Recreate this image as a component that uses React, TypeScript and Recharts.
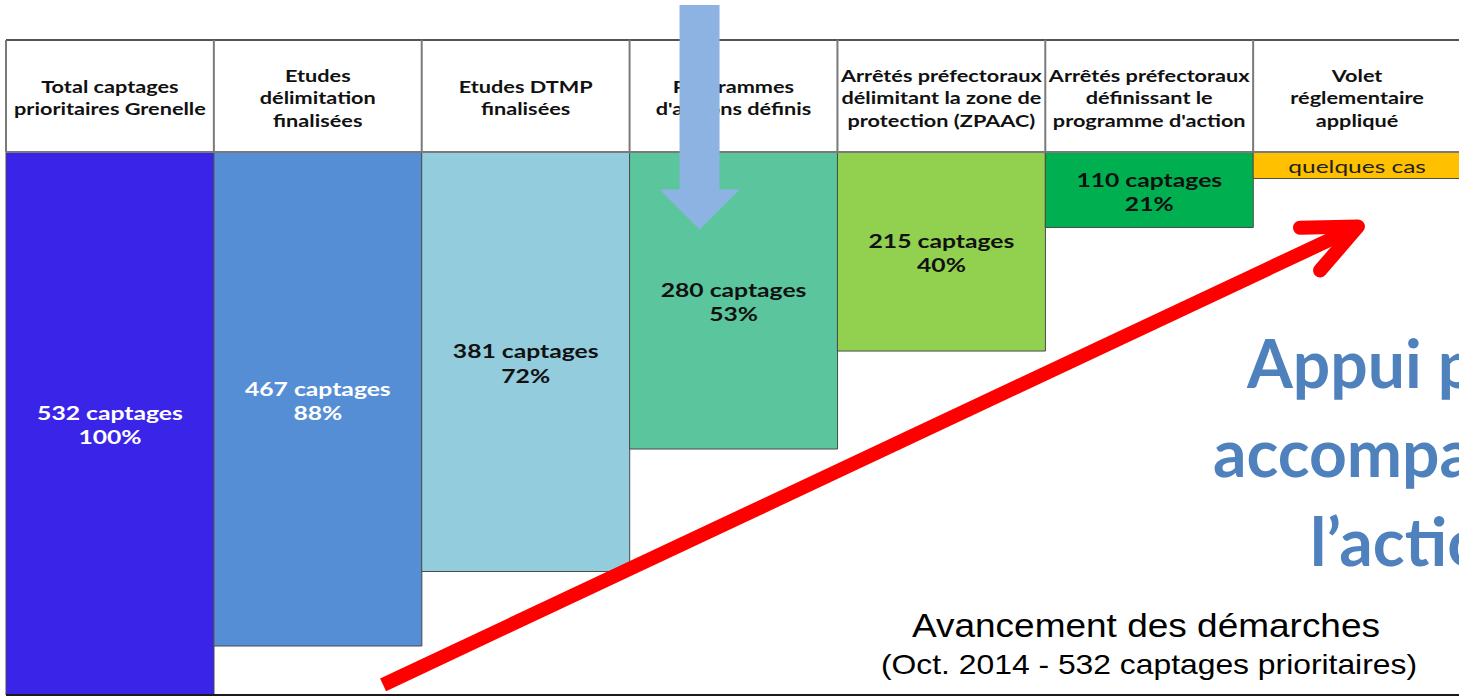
import { ComposedChart, Bar, Cell, XAxis, YAxis, ReferenceLine, LabelList } from "recharts";

// Étapes de la démarche (en-têtes de colonnes)
const etapes = [
  "Total captages\nprioritaires Grenelle",
  "Etudes\ndélimitation\nfinalisées",
  "Etudes DTMP\nfinalisées",
  "Programmes\nd'actions définis",
  "Arrêtés préfectoraux\ndélimitant la zone de\nprotection (ZPAAC)",
  "Arrêtés préfectoraux\ndéfinissant le\nprogramme d'action",
  "Volet\nréglementaire\nappliqué",
];
const captages = [532, 467, 381, 280, 215, 110, null];
const pourcentages = [100, 88, 72, 53, 40, 21, null];
// longueur des barres telle que dessinée sur la diapo (en captages)
const longueurLue = [532, 484, 411, 291, 195, 74, 26];
const mentionSansChiffre = "quelques cas";

const couleurs = ["#3A24E8", "#558ED5", "#93CDDD", "#5BC69D", "#92D050", "#00B050", "#FFC000"];
const couleursTexte = ["#FFFFFF", "#FFFFFF", "#111111", "#111111", "#111111", "#111111", "#222222"];

const data = etapes.map((etape, i) => ({
  etape,
  longueur: longueurLue[i],
}));

const LARGEUR = 1470;
const HAUTEUR = 698;
const MARGE = { top: 40, right: 9, bottom: 3, left: 6 };
const HAUT_ENTETE = 112;
const largeurTrace = LARGEUR - MARGE.left - MARGE.right;
const hauteurTrace = HAUTEUR - MARGE.top - MARGE.bottom - HAUT_ENTETE;
const bande = largeurTrace / etapes.length;
const maxCaptages = 532;

// annotations (axe caché 0..6 sur toute la largeur / captages)
const flecheBleue = [{ x: 2.86, y: -144 }, { x: 2.86, y: 76 }];
const flecheRouge = [{ x: 1.555, y: 522 }, { x: 5.575, y: 73 }];

// même correspondance que l'axe caché "n" et l'axe Y inversé
const versX = (v: number) => MARGE.left + (v / 6) * largeurTrace;
const versY = (v: number) => MARGE.top + HAUT_ENTETE + (v / maxCaptages) * hauteurTrace;

const police = "Lato, 'Open Sans', sans-serif";

function EnteteColonne({ x, payload }: any) {
  const lignes = String(payload.value).split("\n");
  const cy = MARGE.top + HAUT_ENTETE / 2 + 1;
  const pas = 22.5;
  const y0 = cy - ((lignes.length - 1) * pas) / 2;
  const g = x - bande / 2;
  return (
    <g>
      <line x1={g} x2={g + bande} y1={MARGE.top} y2={MARGE.top} stroke="#1a1a1a" strokeWidth={1.5} />
      <line x1={g} x2={g} y1={MARGE.top} y2={MARGE.top + HAUT_ENTETE} stroke="#7a7a7a" strokeWidth={2} />
      <text
        transform={`translate(${x},0) scale(1.24,1)`}
        textAnchor="middle"
        dominantBaseline="central"
        fontFamily={police}
        fontWeight={700}
        fontSize={17.5}
        fill="#111"
      >
        {lignes.map((l, k) => (
          <tspan key={k} x={0} y={y0 + k * pas}>
            {l}
          </tspan>
        ))}
      </text>
    </g>
  );
}

function EtiquetteBarre(props: any) {
  const { x, y, width, height, index } = props;
  const cx = x + width / 2;
  const cy = y + height / 2;
  const c = captages[index];
  if (c == null) {
    return (
      <text
        transform={`translate(${cx},0) scale(1.36,1)`}
        x={0}
        y={cy + 1}
        textAnchor="middle"
        dominantBaseline="central"
        fontFamily={police}
        fontSize={18}
        fill={couleursTexte[index]}
      >
        {mentionSansChiffre}
      </text>
    );
  }
  return (
    <text
      transform={`translate(${cx},0) scale(1.3,1)`}
      textAnchor="middle"
      dominantBaseline="central"
      fontFamily={police}
      fontWeight={700}
      fontSize={19}
      fill={couleursTexte[index]}
    >
      <tspan x={0} y={cy - 11}>{c} captages</tspan>
      <tspan x={0} y={cy + 13}>{pourcentages[index]}%</tspan>
    </text>
  );
}

function FlecheBleue() {
  const x1 = versX(flecheBleue[0].x);
  const y1 = versY(flecheBleue[0].y);
  const y2 = versY(flecheBleue[1].y);
  const pts = [
    [x1 - 20, y1],
    [x1 + 20, y1],
    [x1 + 20, y2 - 40],
    [x1 + 40, y2 - 40],
    [x1, y2],
    [x1 - 40, y2 - 40],
    [x1 - 20, y2 - 40],
  ]
    .map((q) => q.join(","))
    .join(" ");
  return <polygon points={pts} fill="#8DB3E2" />;
}

function FlecheRouge(p: any) {
  const { x1, y1, x2, y2 } = p;
  const dos = Math.atan2(y1 - y2, x1 - x2);
  const L = 58;
  const ouv = 0.42;
  const a = [x2 + L * Math.cos(dos + ouv), y2 + L * Math.sin(dos + ouv)];
  const b = [x2 + L * Math.cos(dos - ouv), y2 + L * Math.sin(dos - ouv)];
  return (
    <g stroke="#FF0000" strokeWidth={14} fill="none">
      <line x1={x1} y1={y1} x2={x2} y2={y2} />
      <polyline points={`${a[0]},${a[1]} ${x2},${y2} ${b[0]},${b[1]}`} strokeLinecap="round" strokeLinejoin="round" />
    </g>
  );
}

export default function App() {
  return (
    <div style={{ position: "absolute", left: 0, top: 0, width: 1459, height: 698, overflow: "hidden", background: "#fff" }}>
      <ComposedChart width={LARGEUR} height={HAUTEUR} data={data} margin={MARGE} barCategoryGap={0} barGap={0}>
        <XAxis
          dataKey="etape"
          orientation="top"
          height={HAUT_ENTETE}
          interval={0}
          tickLine={false}
          axisLine={{ stroke: "#7a7a7a", strokeWidth: 2 }}
          tick={<EnteteColonne />}
        />
        <XAxis xAxisId="n" type="number" domain={[0, 6]} allowDataOverflow hide />
        <YAxis type="number" domain={[0, maxCaptages]} reversed allowDataOverflow hide />
        <Bar dataKey="longueur" stroke="#4a4a4a" strokeWidth={1} isAnimationActive={false}>
          {data.map((d, i) => (
            <Cell key={d.etape} fill={couleurs[i]} />
          ))}
          <LabelList dataKey="longueur" content={<EtiquetteBarre />} />
        </Bar>
        <ReferenceLine y={maxCaptages} stroke="#1a1a1a" strokeWidth={2} ifOverflow="visible" />
        <ReferenceLine xAxisId="n" segment={flecheRouge} ifOverflow="visible" shape={<FlecheRouge />} />
      </ComposedChart>
      <svg width={1459} height={698} style={{ position: "absolute", left: 0, top: 0, pointerEvents: "none" }}>
        <FlecheBleue />
        <g fontFamily={police} fontWeight={700} fontSize={66} fill="#4F81BD">
          <text x={1247} y={388}>Appui pour</text>
          <text x={1213} y={477}>accompagner</text>
          <text x={1310} y={566}>l’action</text>
        </g>
        <g fontFamily="'Liberation Sans', Arial, sans-serif" fill="#000">
          <text x={912} y={637} fontSize={33} textLength={468} lengthAdjust="spacingAndGlyphs">
            Avancement des démarches
          </text>
          <text x={881} y={674} fontSize={28} textLength={536} lengthAdjust="spacingAndGlyphs">
            (Oct. 2014 - 532 captages prioritaires)
          </text>
        </g>
      </svg>
    </div>
  );
}
